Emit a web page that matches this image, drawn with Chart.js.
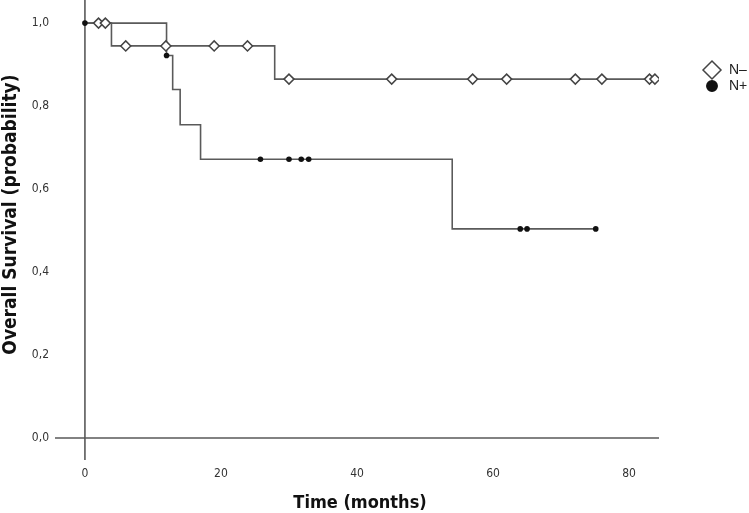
<!DOCTYPE html>
<html>
<head>
<meta charset="utf-8">
<script src="https://cdn.jsdelivr.net/npm/chart.js@4.4.1/dist/chart.umd.min.js"></script>
<style>
    html, body { margin: 0; padding: 0; background: #fff; }
</style>
</head>
<body>
<canvas id="kmChart" width="749" height="513"></canvas>
<script>
// Axis ticks
const xTicks = [0, 20, 40, 60, 80];
const yTicks = [0, 0.2, 0.4, 0.6, 0.8, 1.0];

// N- : step points (months, survival) and censored cases
const negStepTimes = [0, 3.9, 27.9, 83.8];
const negStepSurv = [1.0, 0.945, 0.865, 0.865];
const negCensTimes = [2.0, 3.0, 6.0, 11.9, 19.0, 23.9, 30.0, 45.1, 57.0, 62.0, 72.1, 76.0, 83.0, 83.8];
const negCensSurv = [1.0, 1.0, 0.945, 0.945, 0.945, 0.945, 0.865, 0.865, 0.865, 0.865, 0.865, 0.865, 0.865, 0.865];

// N+ : step points and censored cases
const posStepTimes = [0, 12.0, 12.9, 14.0, 17.0, 54.0, 75.1];
const posStepSurv = [1.0, 0.922, 0.840, 0.755, 0.672, 0.504, 0.504];
const posCensTimes = [0, 12.0, 25.8, 30.0, 31.8, 32.9, 64.0, 65.0, 75.1];
const posCensSurv = [1.0, 0.922, 0.672, 0.672, 0.672, 0.672, 0.504, 0.504, 0.504];

const groupLabels = ['N\u2013', 'N+'];
const xTitle = 'Time (months)';
const yTitle = 'Overall Survival (probability)';

const lineColor = '#5a5a5a';
const titleFamily = '"DejaVu Sans Condensed", "DejaVu Sans", sans-serif';
const tickFont = { family: '"DejaVu Sans Condensed", "DejaVu Sans", sans-serif', size: 12 };

function toPoints(xs, ys) {
    return xs.map((x, i) => ({ x: x, y: ys[i] }));
}

function noPadding(scale) {
    scale.paddingLeft = 0;
    scale.paddingRight = 0;
    scale.paddingTop = 0;
    scale.paddingBottom = 0;
}

// axis lines through 0 plus the axis titles
const axisLines = {
    id: 'axisLines',
    beforeDatasetsDraw(chart) {
        const { ctx, chartArea, scales } = chart;
        const x0 = scales.x.getPixelForValue(0);
        const y0 = scales.y.getPixelForValue(0);
        ctx.save();
        ctx.strokeStyle = lineColor;
        ctx.lineWidth = 1.6;
        ctx.beginPath();
        ctx.moveTo(chartArea.left, y0);
        ctx.lineTo(chartArea.right, y0);
        ctx.moveTo(x0, 0);
        ctx.lineTo(x0, chartArea.bottom);
        ctx.stroke();
        ctx.restore();
    },
    afterDraw(chart) {
        const { ctx, chartArea, scales } = chart;
        ctx.save();
        ctx.fillStyle = '#111';
        ctx.textAlign = 'center';
        ctx.textBaseline = 'middle';
        ctx.font = 'bold 18px ' + titleFamily;
        ctx.fillText(xTitle, (chartArea.left + chartArea.right) / 2 + 3, chart.height - 10);
        ctx.font = 'bold 19px ' + titleFamily;
        const yMid = (scales.y.getPixelForValue(0) + scales.y.getPixelForValue(1)) / 2 - 16;
        ctx.translate(11, yMid);
        ctx.rotate(-Math.PI / 2);
        ctx.fillText(yTitle, 0, 0);
        ctx.restore();
    }
};

// small legend to the right of the plot
const sideLegend = {
    id: 'sideLegend',
    afterDraw(chart) {
        const { ctx, chartArea } = chart;
        const mx = chartArea.right + 53;
        const styles = [
            { pointStyle: 'rectRot', radius: 9, bg: '#fff', border: '#444' },
            { pointStyle: 'circle', radius: 5.2, bg: '#111', border: '#111' }
        ];
        ctx.save();
        ctx.font = '14px "Liberation Sans", Arial, sans-serif';
        ctx.textBaseline = 'middle';
        groupLabels.forEach((label, i) => {
            const my = 70 + i * 16;
            const s = styles[i];
            ctx.fillStyle = s.bg;
            ctx.strokeStyle = s.border;
            ctx.lineWidth = 1.5;
            Chart.helpers.drawPoint(ctx, { pointStyle: s.pointStyle, radius: s.radius, rotation: 0, borderWidth: 1.5 }, mx, my);
            ctx.fillStyle = '#222';
            ctx.fillText(label, mx + 17, my);
        });
        ctx.restore();
    }
};

new Chart(document.getElementById('kmChart'), {
    type: 'scatter',
    data: {
        datasets: [
            {
                label: groupLabels[1] + ' censored',
                data: toPoints(posCensTimes, posCensSurv),
                pointStyle: 'circle',
                pointRadius: 2.8,
                backgroundColor: '#111',
                borderColor: '#111',
                borderWidth: 0,
                showLine: false
            },
            {
                label: groupLabels[0] + ' censored',
                data: toPoints(negCensTimes, negCensSurv),
                pointStyle: 'rectRot',
                pointRadius: 5,
                backgroundColor: '#fff',
                borderColor: '#444',
                borderWidth: 1.5,
                showLine: false
            },
            {
                label: groupLabels[1],
                data: toPoints(posStepTimes, posStepSurv),
                showLine: true,
                stepped: true,
                borderColor: lineColor,
                borderWidth: 1.6,
                pointRadius: 0,
                fill: false
            },
            {
                label: groupLabels[0],
                data: toPoints(negStepTimes, negStepSurv),
                showLine: true,
                stepped: true,
                borderColor: lineColor,
                borderWidth: 1.6,
                pointRadius: 0,
                fill: false
            }
        ]
    },
    options: {
        responsive: false,
        animation: false,
        devicePixelRatio: 1,
        layout: { padding: { left: 0, right: 90, top: 0, bottom: 0 } },
        plugins: {
            legend: { display: false },
            tooltip: { enabled: false }
        },
        scales: {
            x: {
                type: 'linear',
                min: -4.4,
                max: 84.4,
                grid: { display: false, drawTicks: false },
                border: { display: false },
                afterBuildTicks: scale => { scale.ticks = xTicks.map(v => ({ value: v })); },
                afterFit: scale => {
                    scale.height = 53;
                    noPadding(scale);
                },
                ticks: {
                    padding: 7,
                    color: '#333',
                    font: tickFont,
                    callback: v => String(v)
                }
            },
            y: {
                type: 'linear',
                min: -0.053,
                max: 1.04,
                grid: { display: false, drawTicks: false },
                border: { display: false },
                afterBuildTicks: scale => { scale.ticks = yTicks.map(v => ({ value: v })); },
                afterFit: scale => {
                    scale.width = 55;
                    noPadding(scale);
                },
                ticks: {
                    padding: 6,
                    color: '#333',
                    font: tickFont,
                    callback: v => v.toFixed(1).replace('.', ',')
                }
            }
        }
    },
    plugins: [axisLines, sideLegend]
});
</script>
</body>
</html>
